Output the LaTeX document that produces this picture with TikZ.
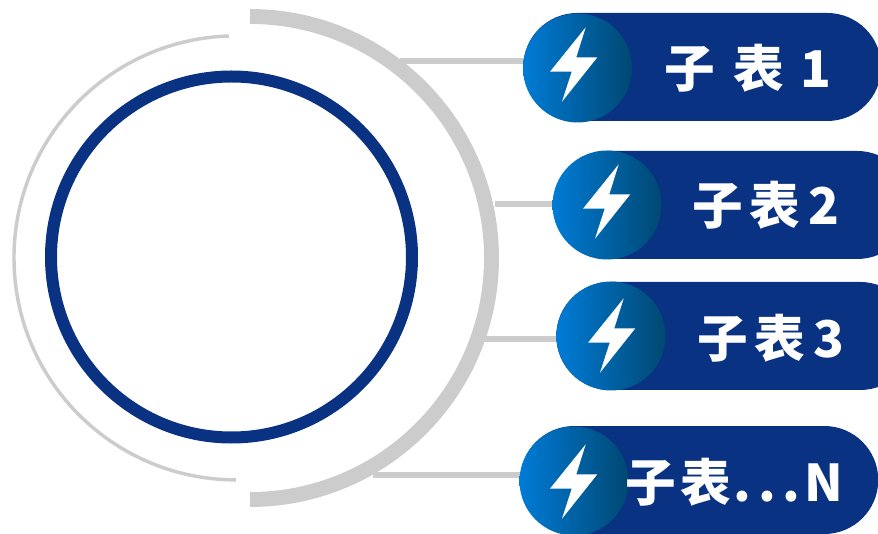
\documentclass[tikz,border=0pt]{standalone}
\usepackage{fontspec}
\newfontfamily\cjk{Noto Sans CJK SC}
\setmainfont{Open Sans}
\usetikzlibrary{backgrounds}
\usepackage[dvipsnames]{xcolor}
\definecolor{navy}{HTML}{0A3282}
\definecolor{ringgray}{HTML}{CCCCCC}
\definecolor{badgeleft}{HTML}{007BD6}
\definecolor{badgemid}{HTML}{0071BE}
\definecolor{badgeright}{HTML}{004872}
\newcommand{\boltpath}{(8.2,-40.7) -- (-1.2,-10.7) -- (19.8,-10.7) -- (-15.5,33.7) -- (-5.8,3.7) -- (-27.5,3.7) -- cycle}
\tikzset{
    pill/.style={fill=navy, rounded corners=54*0.75pt, minimum width=358*0.75pt, minimum height=108*0.75pt, inner sep=0pt, anchor=west},
    badge/.style={circle, minimum size=109*0.75pt, inner sep=0pt, left color=badgeleft, middle color=badgemid, right color=badgeright},
    linkline/.style={ringgray, line width=3.8pt},
    tablabel/.style={text=white, font=\cjk\bfseries\fontsize{38}{42}\selectfont, inner sep=0pt},
}

\begin{document}
\begin{tikzpicture}[x=0.75pt, y=-0.75pt]
    \useasboundingbox (0,0) rectangle (878,534);

    % rings
    \draw [ringgray, line width=2.6pt] (229,36) arc [start angle=-91.8, end angle=-270, radius=222];
    \draw [ringgray, line width=11.2pt] (250,16.5) arc [start angle=-90, end angle=90, radius=241.5];
    \node [circle, draw=navy, line width=9pt, minimum size=361*0.75pt, inner sep=0pt] (core) at (231.5,257) {};

    % sub tables
    \node [pill] (pill1) at (523,67) {};
    \node [badge] (badge1) at (577.5,68) {};
    \fill [white, shift={(577.5,68)}] \boltpath;
    \node [tablabel] (label1) at (748,68) {子\hspace{14pt}表\hspace{12pt}1};

    \node [pill] (pill2) at (553,205) {};
    \node [badge] (badge2) at (607,205) {};
    \fill [white, shift={(610.5,205)}] \boltpath;
    \node [tablabel] (label2) at (766,205) {子\hspace{5pt}表\hspace{6pt}2};

    \node [pill] (pill3) at (556,336) {};
    \node [badge] (badge3) at (611,336) {};
    \fill [white, shift={(615.5,339)}] \boltpath;
    \node [tablabel] (label3) at (770.5,338) {子\hspace{5pt}表\hspace{6pt}3};

    \node [pill] (pill4) at (520,480) {};
    \node [badge] (badge4) at (574,481) {};
    \fill [white, shift={(577.5,485)}] \boltpath;
    \node [tablabel] (label4) at (734.5,482) {子\hspace{3pt}表\hspace{2pt}.\hspace{5pt}.\hspace{5pt}.\hspace{3pt}N};

    % connectors
    \coordinate (hub1) at (400,61);
    \coordinate (hub2) at (495,204);
    \coordinate (hub3) at (484,339);
    \coordinate (hub4) at (373,475);
    \begin{scope}[on background layer]
        \draw [linkline] (hub1) -- (hub1 -| badge1);
        \draw [linkline] (hub2) -- (hub2 -| badge2);
        \draw [linkline] (hub3) -- (hub3 -| badge3);
        \draw [linkline] (hub4) -- (hub4 -| badge4);
    \end{scope}
\end{tikzpicture}
\end{document}
